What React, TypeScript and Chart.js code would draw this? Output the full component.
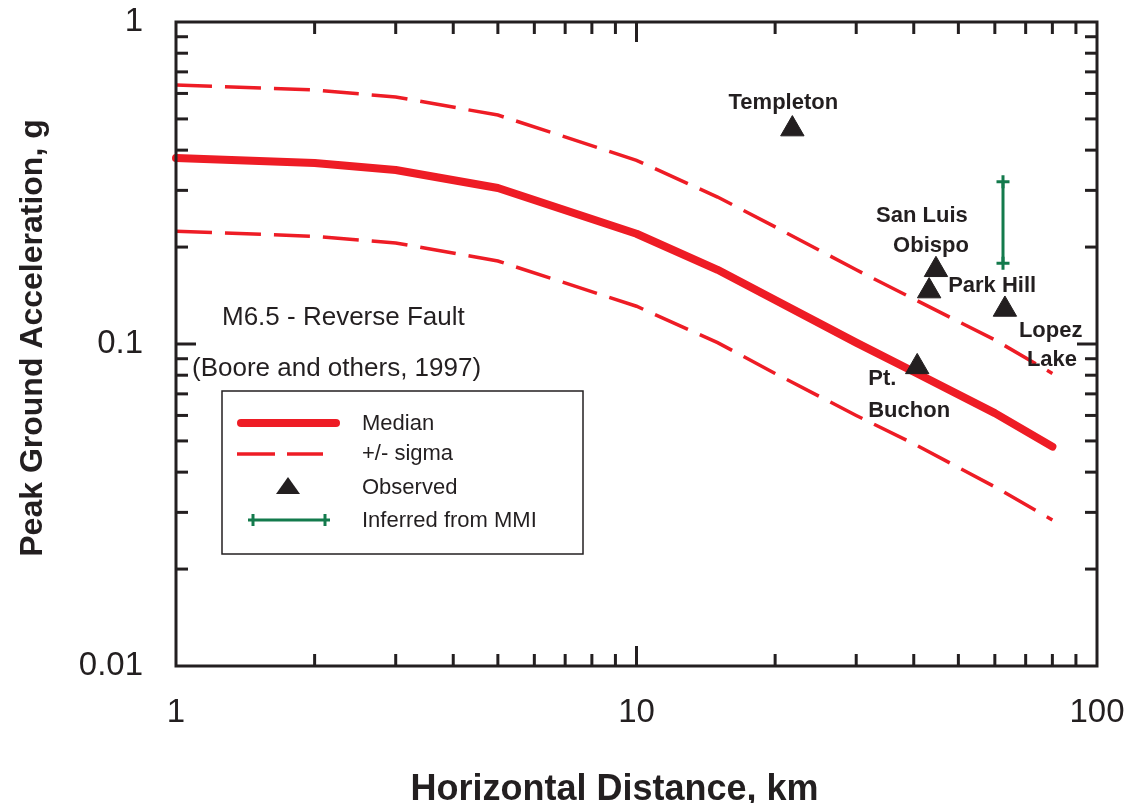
import React, { useEffect, useRef } from 'react';
import { Chart, registerables } from 'chart.js';

Chart.register(...registerables);

// ---- Data ----
const distances = [1, 2, 3, 5, 10, 15, 20, 30, 40, 60, 80];
const medianPGA = [0.378, 0.365, 0.347, 0.305, 0.22, 0.17, 0.137, 0.101, 0.082, 0.061, 0.048];
const upperPGA = [0.637, 0.615, 0.585, 0.514, 0.372, 0.286, 0.231, 0.17, 0.138, 0.103, 0.081];
const lowerPGA = [0.224, 0.216, 0.206, 0.181, 0.131, 0.101, 0.081, 0.06, 0.049, 0.036, 0.0284];

const stationNames = ['Templeton', 'San Luis Obispo', 'Park Hill', 'Lopez Lake', 'Pt. Buchon'];
const stationDistances = [21.8, 44.7, 43.2, 63.1, 40.7];
const stationPGA = [0.465, 0.17, 0.146, 0.128, 0.0849];

const mmiDistances = [62.5, 62.5];
const mmiPGA = [0.178, 0.319];

const xTickValues = [1, 10, 100];
const xTickLabels = ['1', '10', '100'];
const yTickValues = [0.01, 0.1, 1];
const yTickLabels = ['0.01', '0.1', '1'];

const xTitle = 'Horizontal Distance, km';
const yTitle = 'Peak Ground Acceleration, g';
const noteLines = ['M6.5 - Reverse Fault', '(Boore and others, 1997)'];
const legendLabels = ['Median', '+/- sigma', 'Observed', 'Inferred from MMI'];

// ---- Styling / layout (kept apart from the data) ----
const FONT = '"Liberation Sans", Arial, Helvetica, sans-serif';
const RED = '#ee1c25';
const INK = '#231f20';
const GREEN = '#137a4c';

// label placement for each station, offsets in px from the marker centre
const stationLabelLayout: Record<string, { lines: string[]; align: CanvasTextAlign; dx: number[]; dy: number[] }> = {
  'Templeton': { lines: ['Templeton'], align: 'center', dx: [-9], dy: [-20] },
  'San Luis Obispo': { lines: ['San Luis', 'Obispo'], align: 'center', dx: [-14, -5], dy: [-48, -18] },
  'Park Hill': { lines: ['Park Hill'], align: 'left', dx: [19], dy: [1] },
  'Lopez Lake': { lines: ['Lopez', 'Lake'], align: 'left', dx: [14, 22], dy: [28, 57] },
  'Pt. Buchon': { lines: ['Pt.', 'Buchon'], align: 'left', dx: [-49, -49], dy: [18, 50] },
};

const overlayPlugin = {
  id: 'overlay',
  afterDraw(chart: any) {
    const { ctx, chartArea: a, scales } = chart;
    const xs = scales.x;
    const ys = scales.y;
    ctx.save();

    // inward ticks on all four sides
    ctx.strokeStyle = INK;
    ctx.lineWidth = 3;
    ctx.lineCap = 'butt';
    const line = (x1: number, y1: number, x2: number, y2: number) => {
      ctx.beginPath();
      ctx.moveTo(x1, y1);
      ctx.lineTo(x2, y2);
      ctx.stroke();
    };
    [1, 10].forEach((d) => {
      for (let m = 1; m <= 9; m++) {
        const v = d * m;
        if (v === 1) continue;
        const px = xs.getPixelForValue(v);
        const len = m === 1 ? 20 : 12;
        line(px, a.bottom, px, a.bottom - len);
        line(px, a.top, px, a.top + len);
      }
    });
    [0.01, 0.1].forEach((d) => {
      for (let m = 1; m <= 9; m++) {
        const v = d * m;
        if (m === 1 && d === 0.01) continue;
        const py = ys.getPixelForValue(v);
        const len = m === 1 ? 20 : 12;
        line(a.left, py, a.left + len, py);
        line(a.right, py, a.right - len, py);
      }
    });
    ctx.strokeRect(a.left, a.top, a.right - a.left, a.bottom - a.top);

    // station labels
    ctx.fillStyle = INK;
    ctx.font = `bold 22px ${FONT}`;
    ctx.textBaseline = 'alphabetic';
    stationNames.forEach((name, i) => {
      const lay = stationLabelLayout[name];
      const px = xs.getPixelForValue(stationDistances[i]);
      const py = ys.getPixelForValue(stationPGA[i]);
      ctx.textAlign = lay.align;
      lay.lines.forEach((t, k) => ctx.fillText(t, px + lay.dx[k], py + lay.dy[k]));
    });

    // note text
    ctx.font = `26px ${FONT}`;
    ctx.textAlign = 'left';
    ctx.fillText(noteLines[0], a.left + 46, a.top + 303);
    ctx.fillText(noteLines[1], a.left + 16, a.top + 354);

    // legend box
    const lx = a.left + 46;
    const ly = a.top + 369;
    ctx.lineWidth = 1.5;
    ctx.strokeStyle = INK;
    ctx.strokeRect(lx, ly, 361, 163);
    ctx.font = `22px ${FONT}`;
    ctx.textBaseline = 'middle';
    const tx = lx + 140;
    // median
    ctx.strokeStyle = RED;
    ctx.lineWidth = 8;
    ctx.lineCap = 'round';
    line(lx + 19, ly + 32, lx + 114, ly + 32);
    ctx.fillText(legendLabels[0], tx, ly + 33);
    // sigma
    ctx.lineWidth = 3.5;
    ctx.lineCap = 'butt';
    line(lx + 15, ly + 63, lx + 53, ly + 63);
    line(lx + 65, ly + 63, lx + 101, ly + 63);
    ctx.fillText(legendLabels[1], tx, ly + 63);
    // observed
    ctx.fillStyle = INK;
    ctx.beginPath();
    ctx.moveTo(lx + 66, ly + 86);
    ctx.lineTo(lx + 78, ly + 103);
    ctx.lineTo(lx + 54, ly + 103);
    ctx.closePath();
    ctx.fill();
    ctx.fillText(legendLabels[2], tx, ly + 97);
    // inferred
    ctx.strokeStyle = GREEN;
    ctx.lineWidth = 3;
    line(lx + 26, ly + 129, lx + 108, ly + 129);
    line(lx + 31, ly + 123, lx + 31, ly + 135);
    line(lx + 103, ly + 123, lx + 103, ly + 135);
    ctx.fillStyle = INK;
    ctx.fillText(legendLabels[3], tx, ly + 130);

    // axis titles
    ctx.font = `bold 36px ${FONT}`;
    ctx.textAlign = 'center';
    ctx.textBaseline = 'alphabetic';
    ctx.fillText(xTitle, (a.left + a.right) / 2 - 22, chart.height - 3);
    ctx.save();
    ctx.translate(42, (a.top + a.bottom) / 2 - 6);
    ctx.rotate(-Math.PI / 2);
    ctx.font = `bold 32px ${FONT}`;
    ctx.fillText(yTitle, 0, 0);
    ctx.restore();

    ctx.restore();
  },
};

export default function App() {
  const ref = useRef<HTMLCanvasElement>(null);
  useEffect(() => {
    if (!ref.current) return;
    const pts = (xs: number[], ys: number[]) => xs.map((x, i) => ({ x, y: ys[i] }));
    const chart = new Chart(ref.current, {
      type: 'scatter',
      data: {
        datasets: [
          {
            label: 'Observed',
            data: pts(stationDistances, stationPGA),
            pointStyle: 'triangle',
            pointRadius: 13.5,
            backgroundColor: INK,
            borderColor: INK,
            borderWidth: 1,
            showLine: false,
          } as any,
          {
            label: 'Inferred from MMI',
            data: pts(mmiDistances, mmiPGA),
            showLine: true,
            borderColor: GREEN,
            borderWidth: 3,
            pointStyle: 'cross',
            pointRadius: 6.5,
            pointBorderWidth: 3,
            pointBorderColor: GREEN,
            backgroundColor: GREEN,
          } as any,
          {
            label: 'Median',
            data: pts(distances, medianPGA),
            showLine: true,
            borderColor: RED,
            borderWidth: 8,
            borderCapStyle: 'round',
            borderJoinStyle: 'round',
            pointRadius: 0,
            clip: false,
          } as any,
          {
            label: '+sigma',
            data: pts(distances, upperPGA),
            showLine: true,
            borderColor: RED,
            borderWidth: 3.5,
            borderDash: [36, 13],
            pointRadius: 0,
            clip: false,
          } as any,
          {
            label: '-sigma',
            data: pts(distances, lowerPGA),
            showLine: true,
            borderColor: RED,
            borderWidth: 3.5,
            borderDash: [36, 13],
            pointRadius: 0,
            clip: false,
          } as any,
        ],
      },
      options: {
        animation: false,
        responsive: false,
        events: [],
        layout: { padding: { top: 22, right: 34, left: 0, bottom: 0 } },
        plugins: { legend: { display: false }, tooltip: { enabled: false } },
        scales: {
          x: {
            type: 'logarithmic',
            min: 1,
            max: 100,
            grid: { display: false },
            border: { display: false },
            afterBuildTicks: (s: any) => {
              s.ticks = xTickValues.map((v) => ({ value: v }));
            },
            afterFit: (s: any) => {
              s.height = 137;
              s.paddingLeft = 0;
              s.paddingRight = 0;
              s.paddingTop = 0;
              s.paddingBottom = 0;
            },
            ticks: {
              autoSkip: false,
              maxRotation: 0,
              padding: 19,
              color: INK,
              font: { size: 33, family: FONT },
              callback: (_v: any, i: number) => xTickLabels[i],
            },
          },
          y: {
            type: 'logarithmic',
            min: 0.01,
            max: 1,
            grid: { display: false },
            border: { display: false },
            afterBuildTicks: (s: any) => {
              s.ticks = yTickValues.map((v) => ({ value: v }));
            },
            afterFit: (s: any) => {
              s.width = 176;
              s.paddingLeft = 0;
              s.paddingRight = 0;
              s.paddingTop = 0;
              s.paddingBottom = 0;
            },
            ticks: {
              autoSkip: false,
              padding: 25,
              color: INK,
              font: { size: 33, family: FONT },
              callback: (_v: any, i: number) => yTickLabels[i],
            },
          },
        } as any,
      },
      plugins: [overlayPlugin],
    });
    return () => chart.destroy();
  }, []);
  return (
    <div style={{ position: 'absolute', left: 0, top: 0, width: 1131, height: 803, background: '#fff' }}>
      <canvas ref={ref} width={1131} height={803} />
    </div>
  );
}
